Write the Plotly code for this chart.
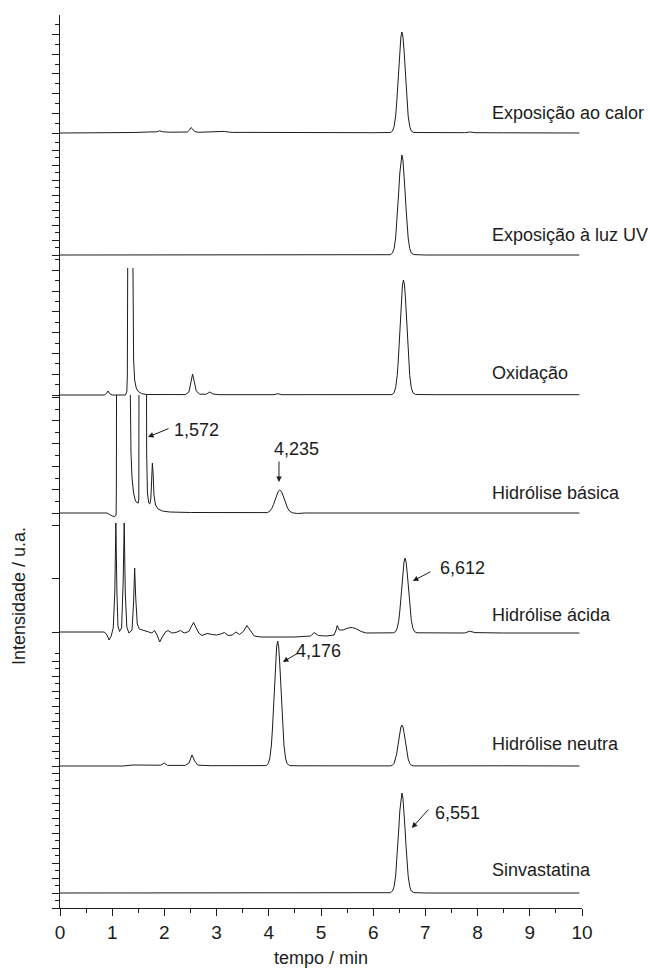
import plotly.graph_objects as go

# ---------------- data (time / min, intensity / u.a.) ----------------
panel_names = ["Exposição ao calor", "Exposição à luz UV", "Oxidação",
               "Hidrólise básica", "Hidrólise ácida", "Hidrólise neutra", "Sinvastatina"]

calor = [(0.0, 0.0), (1.10, 0.0), (1.40, 0.5), (1.70, 1.0), (1.85, 1.2), (1.91, 2.2), (1.97, 1.2),
         (2.10, 0.8), (2.30, 1.2), (2.44, 1.0), (2.48, 3.0), (2.51, 5.5), (2.54, 4.0), (2.58, 1.5),
         (2.65, 0.7), (2.80, 1.0), (3.00, 0.8), (3.15, 1.6), (3.22, 1.0), (3.30, 0.6), (3.60, 0.6),
         (4.20, 0.4), (5.00, 0.3), (6.00, 0.3), (6.33, 0.5), (6.37, 2.0), (6.40, 6.5), (6.43, 17),
         (6.45, 30), (6.47, 46), (6.49, 65), (6.51, 83), (6.53, 96), (6.55, 101), (6.57, 96),
         (6.59, 83), (6.61, 65), (6.63, 46), (6.65, 30), (6.67, 17), (6.70, 6.5), (6.73, 2.0),
         (6.78, 0.5), (7.20, 0.3), (7.75, 0.3), (7.85, 1.0), (7.95, 0.3), (8.50, 0.2), (9.95, 0.0)]

uv = [(0.0, 0.0), (6.00, 0.0), (6.33, 0.3), (6.37, 2.0), (6.40, 6.4), (6.43, 17), (6.45, 30),
      (6.47, 46), (6.49, 64), (6.51, 82), (6.53, 95), (6.55, 100), (6.57, 95), (6.59, 82),
      (6.61, 64), (6.63, 46), (6.65, 30), (6.67, 17), (6.70, 6.4), (6.73, 2.0), (6.78, 0.4),
      (7.00, 0.0), (9.95, 0.0)]

oxid = [(0.0, 0.0), (0.85, 0.0), (0.89, 1.5), (0.92, 4.0), (0.95, 1.5), (1.00, 0.0), (1.25, 0.0),
        (1.28, 3.0), (1.29, 20), (1.297, 127), (None, None), (1.398, 127), (1.402, 70), (1.41, 35),
        (1.43, 15), (1.46, 7.0), (1.50, 3.5), (1.56, 1.5), (1.65, 0.5), (1.90, 0.3), (2.40, 0.4),
        (2.47, 3.0), (2.51, 14), (2.54, 21), (2.57, 14), (2.61, 4.0), (2.68, 0.8), (2.80, 0.8),
        (2.87, 3.0), (2.93, 1.0), (3.05, 0.3), (4.10, 0.3), (4.17, 1.3), (4.25, 0.3), (6.36, 0.4),
        (6.40, 2.2), (6.43, 7.4), (6.46, 19.5), (6.48, 34), (6.50, 53), (6.52, 74), (6.54, 95),
        (6.56, 110), (6.58, 115), (6.60, 110), (6.62, 95), (6.64, 74), (6.66, 53), (6.68, 34),
        (6.70, 19.5), (6.73, 7.4), (6.76, 2.2), (6.81, 0.5), (7.20, 0.3), (9.95, 0.3)]

basica = [(0.0, 0.0), (0.90, 0.0), (0.95, -1.5), (1.00, -3.0), (1.05, -3.5), (1.075, -2.0),
          (1.08, 30), (1.085, 200), (1.33, 200), (1.345, 100), (1.36, 60), (1.38, 35), (1.41, 20),
          (1.44, 13), (1.47, 10.5), (1.50, 10), (1.51, 14), (1.515, 200), (1.655, 200), (1.66, 60),
          (1.675, 20), (1.70, 10), (1.72, 9), (1.74, 14), (1.755, 35), (1.77, 50), (1.785, 38),
          (1.80, 18), (1.83, 8), (1.88, 4), (1.96, 2), (2.10, 1), (2.50, 0.5), (3.50, 0.3),
          (3.97, 0.4), (4.02, 1.8), (4.06, 4.8), (4.09, 8.5), (4.12, 13), (4.15, 18), (4.18, 21.6),
          (4.21, 23), (4.24, 21.6), (4.27, 18), (4.30, 13), (4.33, 8.5), (4.36, 4.8), (4.40, 1.8),
          (4.45, 0.2), (4.55, -0.5), (4.70, 0.0), (9.95, 0.0)]

acida = [(0.0, 0.0), (0.85, 0.0), (0.90, -3), (0.94, -8), (0.98, -4), (1.02, 4), (1.05, 40),
         (1.07, 109), (1.09, 40), (1.11, 6), (1.14, 0.5), (1.18, 4), (1.21, 50), (1.23, 109),
         (1.25, 40), (1.28, 5), (1.32, -1), (1.38, 2), (1.41, 30), (1.43, 64), (1.45, 35),
         (1.48, 8), (1.52, 3), (1.56, 2.5), (1.62, 1), (1.70, 0), (1.76, -1), (1.81, 1.5),
         (1.86, -3), (1.91, -10), (1.96, -5), (2.02, 0), (2.07, 1.5), (2.14, -1), (2.22, -0.5),
         (2.31, 1.5), (2.38, -1), (2.47, 0.5), (2.52, 6), (2.56, 9.5), (2.60, 5), (2.66, -1),
         (2.72, -3.5), (2.82, -1.5), (2.92, -2.5), (3.00, -3), (3.08, -2), (3.15, -0.5),
         (3.22, -3.5), (3.30, -3), (3.37, 0), (3.44, -2.5), (3.52, 1), (3.58, 6.5), (3.64, 2),
         (3.72, -4), (3.85, -5), (4.50, -5), (4.80, -4), (4.87, -0.5), (4.95, -3.5), (5.10, -4),
         (5.25, -3), (5.29, 2), (5.31, 6.5), (5.35, 2), (5.42, 2), (5.52, 4), (5.60, 4.5),
         (5.68, 3), (5.77, 0.5), (5.87, -1), (6.39, -0.8), (6.43, 0.4), (6.46, 3.8), (6.49, 11.6),
         (6.51, 21), (6.53, 33), (6.55, 47), (6.57, 60), (6.59, 70), (6.61, 74), (6.63, 70),
         (6.65, 60), (6.67, 47), (6.69, 33), (6.71, 21), (6.73, 11.6), (6.76, 3.8), (6.79, 0.4),
         (6.84, -0.8), (7.20, -1), (7.75, -1), (7.85, 0.8), (7.95, -0.6), (8.50, -1), (9.95, -1)]

neutra = [(0.0, 0.0), (1.20, 0.0), (1.40, 1.0), (1.60, 0.8), (1.93, 0.8), (2.00, 3.0), (2.06, 0.6),
          (2.40, 0.6), (2.47, 3.0), (2.53, 11), (2.58, 5.0), (2.64, 0.8), (2.90, 0.3), (3.95, 0.4),
          (3.99, 2.4), (4.02, 8), (4.05, 21), (4.07, 37), (4.09, 57), (4.11, 81), (4.13, 102),
          (4.15, 119), (4.17, 125), (4.19, 119), (4.21, 102), (4.23, 81), (4.25, 57), (4.27, 37),
          (4.29, 21), (4.32, 8), (4.35, 2.4), (4.40, 0.4), (4.60, 0.2), (6.33, 0.1), (6.37, 0.8),
          (6.40, 2.6), (6.43, 7), (6.45, 12), (6.47, 19), (6.49, 26.5), (6.51, 33.6), (6.53, 39),
          (6.55, 41), (6.57, 39), (6.59, 33.6), (6.61, 26.5), (6.63, 19), (6.65, 12), (6.67, 7),
          (6.70, 2.6), (6.73, 0.8), (6.78, 0.1), (7.30, 0.2), (7.90, 0.5), (8.50, 0.2), (9.95, 0.0)]

sinva = [(0.0, 0.0), (6.00, 0.0), (6.33, 0.3), (6.37, 2.0), (6.40, 6.4), (6.43, 17), (6.45, 30),
         (6.47, 46), (6.49, 64), (6.51, 82), (6.53, 95), (6.55, 100), (6.57, 95), (6.59, 82),
         (6.61, 64), (6.63, 46), (6.65, 30), (6.67, 17), (6.70, 6.4), (6.73, 2.0), (6.78, 0.4),
         (7.00, 0.0), (9.95, 0.0)]

x_tick_vals = [0, 1, 2, 3, 4, 5, 6, 7, 8, 9, 10]
x_tick_text = ["0", "1", "2", "3", "4", "5", "6", "7", "8", "9", "10"]

# peak annotations: (panel index, label, arrow tip time, arrow tip intensity)
peak_labels = [(3, "1,572", 1.686, 76), (3, "4,235", 4.195, 31), (4, "6,612", 6.76, 51),
               (5, "4,176", 4.27, 104), (6, "6,551", 6.74, 65)]

# ---------------- layout geometry ----------------
W, H = 650, 969
ML, MR, MT, MB = 60, 68, 15, 61
PH = H - MT - MB
PW = W - ML - MR


def yfrac(px):
    return (H - MB - px) / PH


# panel: (top px, baseline px, domain bottom px, major ticks, minor ticks)
def seq(a, step, n):
    return [round(a + k * step, 3) for k in range(n)]


panels = [
    (15, 133, 145, seq(0, 19.67, 7), seq(9.83, 19.67, 6)),
    (133, 255, 267, seq(0, 15, 8), seq(7.5, 15, 8)),
    (255, 395, 407, seq(0, 20.8, 7), seq(10.4, 20.8, 7)),
    (395, 513, 525, seq(0, 23.1, 6), seq(11.55, 23.1, 5)),
    (513, 632, 645, [0, 54, 107], []),
    (632, 766, 778, seq(0, 15, 8), seq(7.5, 15, 8)),
    (766, 893, 908, seq(-15, 15, 10), seq(-7.5, 15, 9)),
]

series = [calor, uv, oxid, basica, acida, neutra, sinva]
LC = "#1c1c1c"
FONT = "Liberation Sans, Arial, sans-serif"

fig = go.Figure()
layout = dict(
    width=W, height=H, margin=dict(l=ML, r=MR, t=MT, b=MB),
    paper_bgcolor="white", plot_bgcolor="rgba(0,0,0,0)", showlegend=False,
    font=dict(family=FONT, size=18, color=LC),
)

for k, (data, p) in enumerate(zip(series, panels)):
    top, base, bot, major, minor = p
    name = "y" if k == 0 else f"y{k+1}"
    t = [d[0] for d in data]
    v = [d[1] for d in data]
    fig.add_trace(go.Scatter(x=t, y=v, mode="lines", xaxis="x", yaxis=name,
                             line=dict(color=LC, width=1), connectgaps=False,
                             hoverinfo="skip"))
    axkey = "yaxis" if k == 0 else f"yaxis{k+1}"
    layout[axkey] = dict(
        domain=[yfrac(bot), yfrac(top)], range=[-(bot - base), base - top],
        anchor="x", showline=True, linecolor=LC, linewidth=1, showgrid=False,
        zeroline=False, showticklabels=False, ticks="outside", ticklen=7,
        tickwidth=1, tickcolor=LC, tickmode="array", tickvals=major, fixedrange=True,
        minor=dict(tickmode="array", tickvals=minor, ticks="outside", ticklen=4,
                   tickwidth=1, tickcolor=LC, showgrid=False),
    )

layout["xaxis"] = dict(
    domain=[0, 1], range=[0, 10], anchor="y7", showline=True, linecolor=LC, linewidth=1,
    showgrid=False, zeroline=False, ticks="outside", ticklen=7, tickwidth=1, tickcolor=LC,
    tickmode="array", tickvals=x_tick_vals, ticktext=x_tick_text,
    tickfont=dict(size=19, color=LC, family=FONT),
    minor=dict(tickmode="array", tickvals=[v + 0.5 for v in x_tick_vals[:-1]], ticks="outside",
               ticklen=4, tickwidth=1, tickcolor=LC, showgrid=False),
)

ann = []
label_offsets = [20, 20, 22, 20, 17, 22, 23]
for k, (name, off) in enumerate(zip(panel_names, label_offsets)):
    yref = "y" if k == 0 else f"y{k+1}"
    ann.append(dict(text=name, xref="paper", x=(490 - ML) / PW, xanchor="left",
                    yref=yref, y=off, yanchor="middle", showarrow=False,
                    font=dict(size=18, color=LC, family=FONT)))

arrow_geo = {"1,572": (22, -9, 196, 430), "4,235": (0, -22, 296, 449),
             "6,612": (19, -10, 462, 568), "4,176": (17, -10, 318, 651),
             "6,551": (18, -20, 457, 813)}
for k, lab, tx, ty in peak_labels:
    yref = "y" if k == 0 else f"y{k+1}"
    axp, ayp, lx, ly = arrow_geo[lab]
    ann.append(dict(text="", xref="x", yref=yref, x=tx, y=ty, ax=axp, ay=ayp,
                    showarrow=True, arrowhead=2, arrowsize=1.1, arrowwidth=1,
                    arrowcolor=LC, standoff=0, startstandoff=0))
    ann.append(dict(text=lab, xref="paper", yref="paper", x=(lx - ML) / PW, y=yfrac(ly),
                    xanchor="center", yanchor="middle", showarrow=False,
                    font=dict(size=18, color=LC, family=FONT)))

ann.append(dict(text="Intensidade / u.a.", xref="paper", yref="paper", x=(19 - ML) / PW,
                y=yfrac(596), xanchor="center", yanchor="middle", textangle=-90,
                showarrow=False, font=dict(size=18, color=LC, family=FONT)))
ann.append(dict(text="tempo / min", xref="paper", yref="paper", x=0.5, y=yfrac(958),
                xanchor="center", yanchor="middle", showarrow=False,
                font=dict(size=18, color=LC, family=FONT)))
layout["annotations"] = ann

fig.update_layout(**layout)
fig.write_html("out.html")
